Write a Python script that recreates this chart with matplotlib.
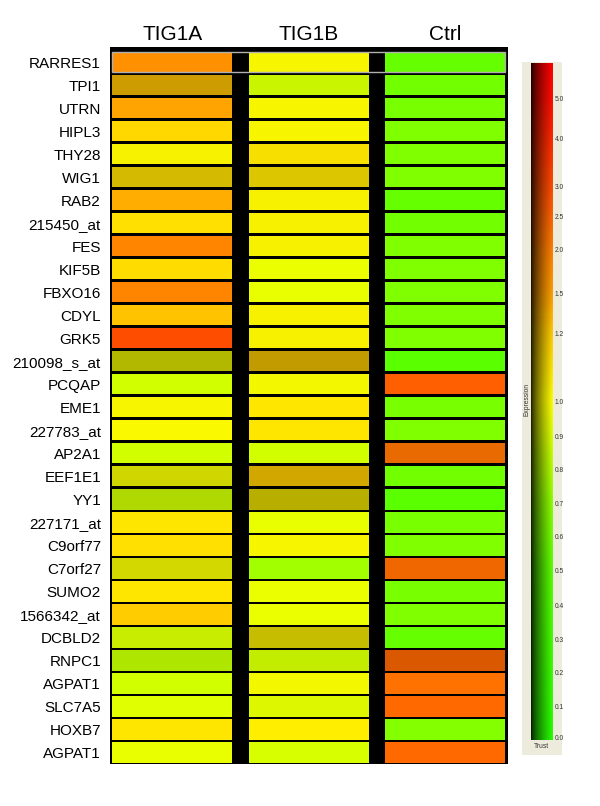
import numpy as np
import matplotlib
matplotlib.use('Agg')
import matplotlib.pyplot as plt
import matplotlib.patches as patches
from matplotlib.colors import LinearSegmentedColormap

plt.rcParams['font.family'] = ['Liberation Sans', 'DejaVu Sans']

# ── Data ──────────────────────────────────────────────────────────────
GENES = ['RARRES1', 'TPI1', 'UTRN', 'HIPL3', 'THY28', 'WIG1', 'RAB2',
         '215450_at', 'FES', 'KIF5B', 'FBXO16', 'CDYL', 'GRK5',
         '210098_s_at', 'PCQAP', 'EME1', '227783_at', 'AP2A1', 'EEF1E1',
         'YY1', '227171_at', 'C9orf77', 'C7orf27', 'SUMO2', '1566342_at',
         'DCBLD2', 'RNPC1', 'AGPAT1', 'SLC7A5', 'HOXB7', 'AGPAT1']
SAMPLES = ['TIG1A', 'TIG1B', 'Ctrl']

# expression (normalised) per sample
EXPR_TIG1A = [1.70, 1.25, 1.45, 1.15, 1.02, 1.12, 1.40, 1.12, 1.90, 1.14,
              1.90, 1.25, 2.95, 0.98, 0.88, 1.00, 1.00, 0.88, 0.98, 0.87,
              1.10, 1.12, 0.98, 1.10, 1.20, 0.90, 0.84, 0.88, 0.92, 1.10,
              0.94]
EXPR_TIG1B = [1.00, 0.88, 1.00, 1.00, 1.10, 1.10, 1.03, 1.03, 1.03, 0.95,
              0.94, 1.03, 1.03, 1.20, 0.99, 1.10, 1.10, 0.88, 1.20, 1.05,
              0.94, 1.00, 0.75, 0.95, 0.95, 1.05, 0.88, 0.99, 0.93, 1.07,
              0.90]
EXPR_CTRL = [0.55, 0.60, 0.62, 0.65, 0.65, 0.65, 0.55, 0.60, 0.65, 0.65,
             0.65, 0.65, 0.65, 0.50, 2.60, 0.62, 0.65, 2.20, 0.60, 0.50,
             0.62, 0.65, 2.30, 0.62, 0.65, 0.55, 2.45, 2.25, 2.40, 0.67,
             2.40]

# trust (brightness) per sample
TRUST_TIG1A = [1.0, 0.80, 1.0, 1.0, 0.97, 0.83, 1.0, 1.0, 1.0, 1.0,
               1.0, 1.0, 1.0, 0.72, 1.0, 0.97, 0.98, 1.0, 0.84, 0.85,
               1.0, 1.0, 0.85, 1.0, 1.0, 0.93, 0.90, 1.0, 1.0, 1.0,
               1.0]
TRUST_TIG1B = [0.97, 0.96, 0.97, 0.97, 0.97, 0.86, 0.97, 0.97, 0.97, 1.0,
               1.0, 0.97, 0.97, 0.76, 0.97, 1.0, 1.0, 1.0, 0.82, 0.72,
               1.0, 0.97, 1.0, 1.0, 1.0, 0.78, 0.93, 0.97, 0.97, 1.0,
               1.0]
TRUST_CTRL = [1.0, 1.0, 1.0, 1.0, 1.0, 1.0, 1.0, 1.0, 1.0, 1.0,
              1.0, 1.0, 1.0, 1.0, 1.0, 1.0, 1.0, 0.91, 1.0, 1.0,
              1.0, 1.0, 0.94, 1.0, 1.0, 1.0, 0.85, 1.0, 1.0, 1.0,
              1.0]

# colour bar scale: tick values and their fraction along the bar
CBAR_TICKS = [0.0, 0.1, 0.2, 0.3, 0.4, 0.5, 0.6, 0.7, 0.8, 0.9, 1.0,
              1.2, 1.5, 2.0, 2.5, 3.0, 4.0, 5.0]
CBAR_FRAC = [0.004, 0.049, 0.099, 0.149, 0.199, 0.250, 0.300, 0.350,
             0.400, 0.449, 0.500, 0.600, 0.659, 0.725, 0.774, 0.817,
             0.888, 0.948]


def to_frac(v):
    return np.interp(v, CBAR_TICKS + [6.3], CBAR_FRAC + [1.0])


cmap = LinearSegmentedColormap.from_list('expr', [
    (0.000, (0.15, 1.00, 0.00)),
    (0.250, (0.35, 1.00, 0.00)),
    (0.350, (0.55, 1.00, 0.00)),
    (0.449, (0.85, 1.00, 0.00)),
    (0.500, (1.00, 1.00, 0.00)),
    (0.600, (1.00, 0.80, 0.00)),
    (0.659, (1.00, 0.62, 0.00)),
    (0.725, (1.00, 0.50, 0.00)),
    (0.817, (1.00, 0.30, 0.00)),
    (0.948, (1.00, 0.05, 0.00)),
    (1.000, (1.00, 0.00, 0.00)),
])

# ── Figure ────────────────────────────────────────────────────────────
W, H = 600, 806
fig = plt.figure(figsize=(W / 100, H / 100), dpi=100)

ax = fig.add_axes([110 / W, (H - 764) / H, 398 / W, 717 / H])
ax.set_facecolor('black')

columns = [(EXPR_TIG1A, TRUST_TIG1A), (EXPR_TIG1B, TRUST_TIG1B),
           (EXPR_CTRL, TRUST_CTRL)]
for c, (expr, trust) in enumerate(columns):
    rgb = cmap(to_frac(np.array(expr)))[:, :3] * np.array(trust)[:, None]
    ax.bar(np.full(len(GENES), c), 0.88, bottom=np.arange(len(GENES)) - 0.44,
           width=0.88, color=rgb, edgecolor='none')

# highlighted (selected) first row
ax.add_patch(patches.Rectangle((-0.44, -0.44), 2.88, 0.88, facecolor='none',
                               edgecolor='#b0b0b0', linewidth=1.0, zorder=3))

ax.set_xlim(-0.457, 2.462)
ax.set_ylim(30.5, -0.66)
ax.set_yticks(range(len(GENES)))
ax.set_yticklabels(GENES, fontsize=11)
ax.xaxis.tick_top()
ax.set_xticks(range(3))
ax.set_xticklabels(SAMPLES, fontsize=15)
ax.tick_params(axis='both', length=0)
ax.tick_params(axis='y', pad=6.5)
ax.tick_params(axis='x', pad=2)
for s in ax.spines.values():
    s.set_visible(False)

# ── Colour bar ────────────────────────────────────────────────────────
panel = fig.add_axes([522 / W, (H - 755) / H, 40 / W, 693 / H])
panel.set_facecolor('#ecebdc')
panel.set_xticks([])
panel.set_yticks([])
for s in panel.spines.values():
    s.set_visible(False)

cax = fig.add_axes([531 / W, (H - 740) / H, 22 / W, 677 / H])
levels = np.linspace(0, 1, 300)
shade = np.linspace(0, 1, 60) ** 0.7 * 0.9 + 0.1
grad = cmap(levels)[:, None, :3] * shade[None, :, None]
cax.imshow(grad, origin='lower', extent=[0, 1, 0, 1], aspect='auto',
           interpolation='bilinear')
cax.set_xlim(0, 1)
cax.set_ylim(0, 1)
cax.set_xticks([])
cax.yaxis.tick_right()
cax.set_yticks(to_frac(np.array(CBAR_TICKS)))
cax.set_yticklabels([f'{v:.1f}' for v in CBAR_TICKS], fontsize=4.8,
                    color='#333333')
cax.tick_params(axis='y', length=0, pad=1)
for s in cax.spines.values():
    s.set_visible(False)

fig.text(527 / W, 1 - 400 / H, 'Expression', rotation=90, fontsize=4.8,
         ha='center', va='center', color='#333333')
fig.text(541 / W, 1 - 746 / H, 'Trust', fontsize=4.8, ha='center',
         va='center', color='#333333')

fig.savefig('out.png', dpi=100, facecolor='white')
